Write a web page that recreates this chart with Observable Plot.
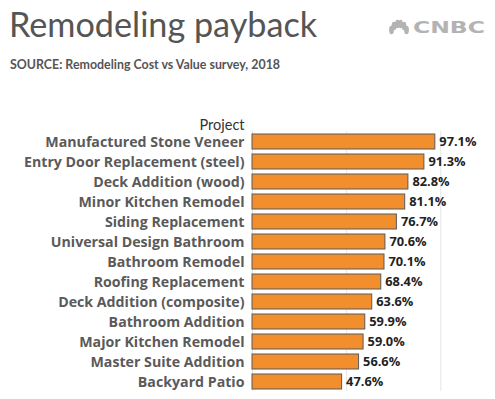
<!DOCTYPE html>
<html>
<head>
<meta charset="utf-8">
<script src="https://cdn.jsdelivr.net/npm/d3@7"></script>
<script src="https://cdn.jsdelivr.net/npm/@observablehq/plot@0.6"></script>
<style>
  body { margin: 0; background: #fff; width: 495px; height: 399px; overflow: hidden; }
  #header { position: relative; height: 100px; }
  #title { position: absolute; left: 9px; top: 3px; font-family: Lato, sans-serif; font-size: 34.2px; color: #555; white-space: nowrap; }
  #source { position: absolute; left: 10px; top: 57px; font-family: Lato, sans-serif; font-weight: bold; font-size: 12.4px; color: #555; white-space: nowrap; }
  #logo { position: absolute; left: 386px; top: 16px; }
  #chart { position: absolute; left: 0; top: 100px; }
</style>
</head>
<body>
<div id="header">
  <div id="title">Remodeling payback</div>
  <div id="source">SOURCE: Remodeling Cost vs Value survey, 2018</div>
  <svg id="logo" width="104" height="22" viewBox="0 0 104 22">
    <g fill="#b3b3b3" transform="translate(13,17)">
      <ellipse cx="-7.5" cy="-3" rx="2.4" ry="4.2"/>
      <ellipse cx="-5" cy="-7" rx="2.4" ry="4.2"/>
      <ellipse cx="-1.6" cy="-9" rx="2.2" ry="4.2"/>
      <ellipse cx="1.6" cy="-9" rx="2.2" ry="4.2"/>
      <ellipse cx="5" cy="-7" rx="2.4" ry="4.2"/>
      <ellipse cx="7.5" cy="-3" rx="2.4" ry="4.2"/>
    </g>
    <text x="27" y="17" font-family="DejaVu Sans" font-weight="bold" font-size="16" fill="#b3b3b3" textLength="72" lengthAdjust="spacingAndGlyphs">CNBC</text>
  </svg>
</div>
<div id="chart"></div>
<script>
const projects = [
  "Manufactured Stone Veneer",
  "Entry Door Replacement (steel)",
  "Deck Addition (wood)",
  "Minor Kitchen Remodel",
  "Siding Replacement",
  "Universal Design Bathroom",
  "Bathroom Remodel",
  "Roofing Replacement",
  "Deck Addition (composite)",
  "Bathroom Addition",
  "Major Kitchen Remodel",
  "Master Suite Addition",
  "Backyard Patio"
];
const payback = [97.1, 91.3, 82.8, 81.1, 76.7, 70.6, 70.1, 68.4, 63.6, 59.9, 59.0, 56.6, 47.6];
const gridTicks = [50, 100];
const yLabel = "Project";

const data = projects.map((p, i) => ({project: p, value: payback[i]}));

const chart = Plot.plot({
  width: 495,
  height: 299,
  marginTop: 31,
  marginBottom: 8,
  marginLeft: 252,
  marginRight: 2,
  style: {fontFamily: "'Open Sans', sans-serif", background: "#fff"},
  x: {domain: [0, 128], axis: null},
  y: {domain: projects, paddingInner: 0.25, paddingOuter: 0.125, label: null},
  marks: [
    Plot.ruleX(gridTicks, {stroke: "#e6e6e6", strokeWidth: 1}),
    Plot.ruleX([0], {stroke: "#dcdcdc", strokeWidth: 1}),
    Plot.barX(data, {y: "project", x: "value", fill: "#F28E2B", stroke: "#5a5a5a", strokeWidth: 1}),
    Plot.text(data, {y: "project", x: "value", text: d => d.value.toFixed(1) + "%", textAnchor: "start", dx: 4, fill: "#222", fontWeight: "bold", fontSize: 12.8}),
    Plot.axisY({tickSize: 0, tickPadding: 8, fontSize: 14.2, fontWeight: "bold", color: "#5a5a5a", label: null}),
    Plot.text([yLabel], {frameAnchor: "top-left", text: d => d, textAnchor: "end", lineAnchor: "bottom", dx: -8, dy: -2, fontSize: 14.5, fill: "#333", fontFamily: "Lato, sans-serif"})
  ]
});
document.getElementById("chart").appendChild(chart);
</script>
</body>
</html>
